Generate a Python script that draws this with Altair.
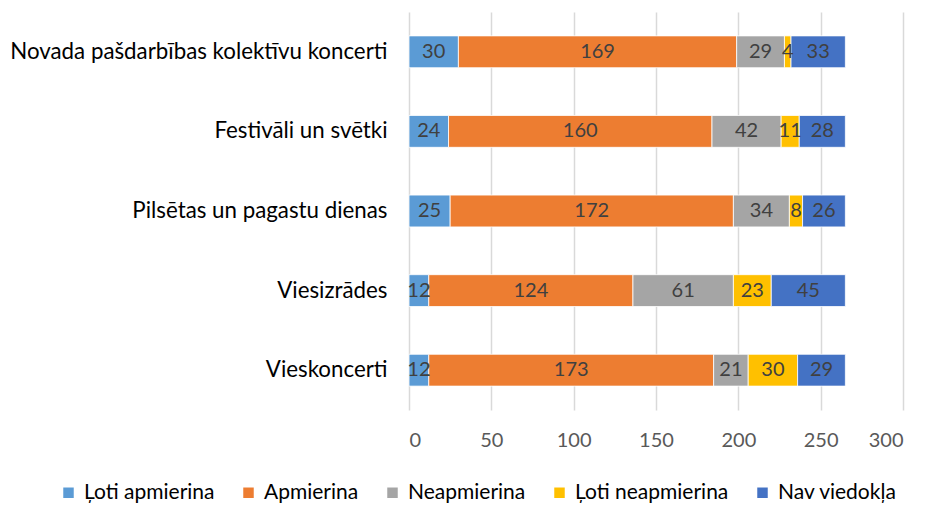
import altair as alt
import pandas as pd

categories = [
    "Novada pašdarbības kolektīvu koncerti",
    "Festivāli un svētki ",
    "Pilsētas un pagastu dienas",
    "Viesizrādes",
    "Vieskoncerti",
]
series = ["Ļoti apmierina", "Apmierina", "Neapmierina", "Ļoti neapmierina", "Nav viedokļa"]
colors = ["#5B9BD5", "#ED7D31", "#A5A5A5", "#FFC000", "#4472C4"]

loti_apmierina = [30, 24, 25, 12, 12]
apmierina = [169, 160, 172, 124, 173]
neapmierina = [29, 42, 34, 61, 21]
loti_neapmierina = [4, 11, 8, 23, 30]
nav_viedokla = [33, 28, 26, 45, 29]

values = [loti_apmierina, apmierina, neapmierina, loti_neapmierina, nav_viedokla]
rows = []
for si, s in enumerate(series):
    for ci, c in enumerate(categories):
        rows.append({"category": c, "series": s, "order": si, "value": values[si][ci]})
df = pd.DataFrame(rows)

FONT = "Lato"

base = alt.Chart(df).transform_stack(
    stack="value", as_=["x0", "x1"], groupby=["category"], sort=[{"field": "order", "order": "ascending"}]
).transform_calculate(mid="(datum.x0 + datum.x1) / 2")

y_enc = alt.Y(
    "category:N",
    sort=categories,
    title=None,
    scale=alt.Scale(paddingInner=0.6, paddingOuter=0.3),
    axis=alt.Axis(domain=False, ticks=False, labelPadding=22, labelFontSize=22.3,
                  labelColor="#000000", labelFont=FONT, labelLimit=500),
)

bars = base.mark_bar(stroke="white", strokeWidth=0.8).encode(
    x=alt.X(
        "x0:Q",
        title=None,
        scale=alt.Scale(domain=[0, 300], nice=False),
        axis=alt.Axis(values=[0, 50, 100, 150, 200, 250, 300], domain=False, ticks=False,
                      grid=True, gridColor="#D9D9D9", gridWidth=1.5, labelPadding=20,
                      labelFontSize=20, labelColor="#595959", labelFont=FONT),
    ),
    x2="x1:Q",
    y=y_enc,
    color=alt.Color(
        "series:N",
        sort=series,
        scale=alt.Scale(domain=series, range=colors),
        legend=alt.Legend(
            title=None, orient="none", direction="horizontal", legendX=-351, legendY=470,
            symbolType="square", symbolSize=110, symbolStrokeWidth=0, labelFontSize=21,
            labelFont=FONT, labelColor="#000000", columnPadding=23, labelOffset=5,
            labelLimit=300,
        ),
    ),
    order=alt.Order("order:Q"),
)

labels = base.mark_text(fontSize=20, color="#404040", font=FONT).encode(
    x=alt.X("mid:Q"),
    y=alt.Y("category:N", sort=categories),
    text=alt.Text("value:Q"),
)

chart = (bars + labels).properties(
    width=494,
    height=398,
    autosize=alt.AutoSizeParams(type="none"),
    padding={"left": 401, "top": 4, "right": 15, "bottom": 96},
).configure(background="white").configure_view(strokeWidth=0)

chart.save("out.html", embed_options={"renderer": "svg", "actions": False})
